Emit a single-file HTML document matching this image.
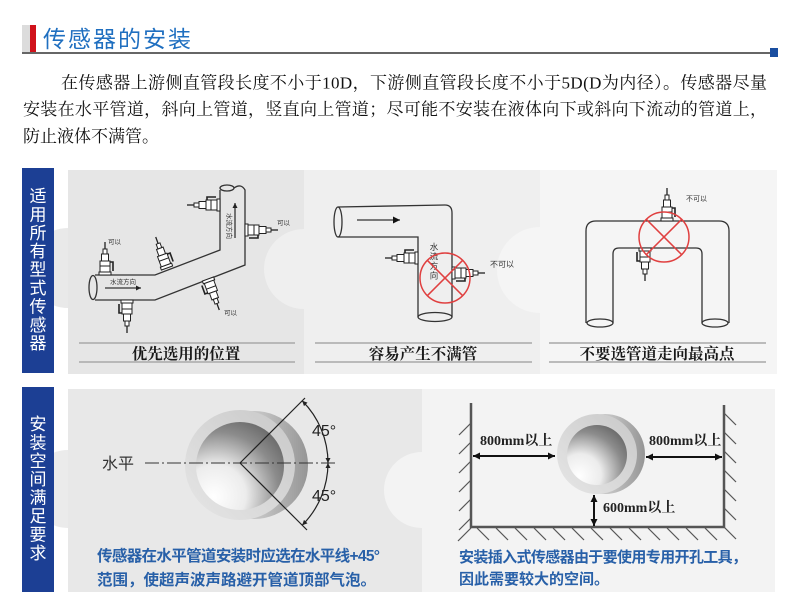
<!DOCTYPE html>
<html><head><meta charset="utf-8"><style>
html,body{margin:0;padding:0;background:#fff;}
svg{display:block;}
.sf{font-family:"Liberation Serif","Noto Serif CJK SC",serif;}
.ss{font-family:"Liberation Sans","Noto Sans CJK SC",sans-serif;}
</style></head><body>
<svg width="790" height="595" viewBox="0 0 790 595" xmlns="http://www.w3.org/2000/svg">
<defs>
 <g id="sn" fill="#fff" stroke="#222" stroke-width="1">
  <rect x="-6" y="-3" width="12" height="3"/>
  <rect x="-5" y="-14" width="10" height="11"/>
  <line x1="-5" y1="-9" x2="5" y2="-9"/>
  <path d="M5,-13 H8 V-4" fill="none" stroke-width="1.6"/>
  <rect x="-3.5" y="-21" width="7" height="7"/>
  <rect x="-2" y="-26" width="4" height="5"/>
  <line x1="0" y1="-26" x2="0" y2="-33" stroke-width="1.3"/>
 </g>
 <marker id="ah" viewBox="0 0 10 10" refX="10" refY="5" markerWidth="9" markerHeight="7" markerUnits="userSpaceOnUse" orient="auto-start-reverse">
  <path d="M0,0 L10,5 L0,10 z" fill="#111"/>
 </marker>
 <marker id="as" viewBox="0 0 10 10" refX="10" refY="5" markerWidth="6" markerHeight="5" markerUnits="userSpaceOnUse" orient="auto-start-reverse">
  <path d="M0,0 L10,5 L0,10 z" fill="#222"/>
 </marker>
 <linearGradient id="cyl" x1="0" y1="0" x2="1" y2="0">
  <stop offset="0" stop-color="#e8e8e8"/><stop offset="0.6" stop-color="#c0c0c0"/><stop offset="1" stop-color="#959595"/>
 </linearGradient>
 <linearGradient id="ring" x1="0" y1="1" x2="1" y2="0">
  <stop offset="0" stop-color="#e6e6e6"/><stop offset="1" stop-color="#c8c8c8"/>
 </linearGradient>
 <radialGradient id="bore" cx="0.25" cy="0.8" r="1.0" fx="0.2" fy="0.85">
  <stop offset="0" stop-color="#ffffff"/><stop offset="0.35" stop-color="#ececec"/><stop offset="0.7" stop-color="#8c8c8c"/><stop offset="1" stop-color="#5c5c5c"/>
 </radialGradient>
</defs>

<!-- header -->
<rect x="22" y="25" width="8" height="28" fill="#dcdcdc"/>
<rect x="30" y="25" width="6" height="28" fill="#d0121b"/>
<text x="43" y="47" class="ss" font-size="23" letter-spacing="2" fill="#1f6fc0">传感器的安装</text>
<line x1="22" y1="53" x2="772" y2="53" stroke="#666" stroke-width="2"/>
<rect x="770" y="48" width="8" height="9" fill="#1a4ea0"/>

<!-- paragraph -->
<g class="sf" font-size="17" fill="#111">
 <text x="61" y="88.5" textLength="706" lengthAdjust="spacing">在传感器上游侧直管段长度不小于10D，下游侧直管段长度不小于5D(D为内径）。传感器尽量</text>
 <text x="23" y="115" textLength="744" lengthAdjust="spacing">安装在水平管道，斜向上管道，竖直向上管道；尽可能不安装在液体向下或斜向下流动的管道上，</text>
 <text x="23" y="142">防止液体不满管。</text>
</g>

<!-- row 1 panels -->
<rect x="68" y="170" width="236" height="204" fill="#e6e6e6"/>
<rect x="304" y="170" width="236" height="204" fill="#efefef"/>
<circle cx="304" cy="269" r="40" fill="#efefef"/>
<rect x="540" y="170" width="237" height="204" fill="#f5f5f5"/>
<circle cx="540" cy="270" r="43" fill="#f5f5f5"/>
<path d="M68,228 A40,40 0 0 0 68,308 Z" fill="#e9e9e9"/>

<!-- row 2 panels -->
<rect x="68" y="389" width="354" height="203" fill="#e8e8e8"/>
<path d="M68,450 A39,39 0 0 0 68,528 Z" fill="#ebebeb"/>
<rect x="422" y="389" width="353" height="203" fill="#f3f3f3"/>
<circle cx="422" cy="490" r="38" fill="#f3f3f3"/>

<!-- blue label boxes -->
<rect x="22" y="168" width="32" height="205" fill="#1c3f94"/>
<rect x="22" y="387" width="32" height="205" fill="#1c3f94"/>
<g class="ss" font-size="17" fill="#fff" text-anchor="middle">
 <text x="38" y="202">适</text><text x="38" y="220.4">用</text><text x="38" y="238.8">所</text>
 <text x="38" y="257.2">有</text><text x="38" y="275.6">型</text><text x="38" y="294">式</text>
 <text x="38" y="312.4">传</text><text x="38" y="330.8">感</text><text x="38" y="349.2">器</text>
 <text x="38" y="430">安</text><text x="38" y="448.4">装</text><text x="38" y="466.8">空</text>
 <text x="38" y="485.2">间</text><text x="38" y="503.6">满</text><text x="38" y="522">足</text>
 <text x="38" y="540.4">要</text><text x="38" y="558.8">求</text>
</g>

<!-- row1 caption lines -->
<g stroke="#a8a8a8" stroke-width="1.5">
 <line x1="79" y1="343" x2="295" y2="343"/><line x1="79" y1="362" x2="295" y2="362"/>
 <line x1="315" y1="343" x2="532" y2="343"/><line x1="315" y1="362" x2="532" y2="362"/>
 <line x1="549" y1="343" x2="766" y2="343"/><line x1="549" y1="362" x2="766" y2="362"/>
</g>
<g class="sf" font-size="15.5" font-weight="bold" fill="#1a1a1a" text-anchor="middle">
 <text x="186" y="359">优先选用的位置</text>
 <text x="423" y="359">容易产生不满管</text>
 <text x="657" y="359">不要选管道走向最高点</text>
</g>

<!-- panel 1 drawing -->
<g fill="none" stroke="#333" stroke-width="1.3">
 <path d="M95,275 L155,275 L220,250 L220,190"/>
 <path d="M234,188 Q241,183 245,190 L245,265 L155,300 L95,300"/>
 <ellipse cx="93" cy="287.5" rx="4" ry="12"/>
 <ellipse cx="227" cy="188" rx="7" ry="3"/>
 <line x1="105" y1="288" x2="141" y2="288" marker-end="url(#as)"/>
 <line x1="235" y1="238" x2="235" y2="203" marker-end="url(#as)"/>
</g>
<g class="ss" font-size="6.5" fill="#333">
 <text x="110" y="284">水流方向</text>
 <text x="0" y="0" transform="translate(227,213) rotate(90)">水流方向</text>
 <text x="108" y="244">可以</text>
 <text x="277" y="225">可以</text>
 <text x="224" y="315">可以</text>
</g>
<use href="#sn" transform="translate(105,275)"/>
<use href="#sn" transform="translate(167,268) rotate(-20)"/>
<use href="#sn" transform="translate(127,300) rotate(180)"/>
<use href="#sn" transform="translate(208,279) rotate(160)"/>
<use href="#sn" transform="translate(220,205) rotate(-90)"/>
<use href="#sn" transform="translate(245,230) rotate(90)"/>

<!-- panel 2 drawing -->
<g fill="none" stroke="#333" stroke-width="1.3">
 <path d="M338,207 L445,205 Q452,205 452,213 L452,317"/>
 <path d="M338,237 L418,237 L418,317"/>
 <ellipse cx="338" cy="222" rx="4" ry="15"/>
 <ellipse cx="435" cy="317" rx="17" ry="4.5"/>
 <line x1="357" y1="220" x2="400" y2="220" marker-end="url(#ah)"/>
</g>
<g class="ss" font-size="8.5" fill="#333" text-anchor="middle">
 <text x="434" y="250">水</text><text x="434" y="259.5">流</text><text x="434" y="269">方</text><text x="434" y="278.5">向</text>
</g>
<use href="#sn" transform="translate(418,258) rotate(-90)"/>
<use href="#sn" transform="translate(452,273) rotate(90)"/>
<g fill="none" stroke="#e04040" stroke-width="1.5">
 <circle cx="445" cy="278" r="25"/>
 <line x1="427.3" y1="260.3" x2="462.7" y2="295.7"/>
 <line x1="462.7" y1="260.3" x2="427.3" y2="295.7"/>
</g>
<text x="490" y="267" class="ss" font-size="8" fill="#333">不可以</text>

<!-- panel 3 drawing -->
<g fill="none" stroke="#333" stroke-width="1.3">
 <path d="M586,323 L586,231 Q586,221 596,221 L719,221 Q729,221 729,231 L729,323"/>
 <path d="M613,323 L613,254 Q613,248 619,248 L696,248 Q702,248 702,254 L702,323"/>
 <ellipse cx="600" cy="323" rx="13" ry="4"/>
 <ellipse cx="715" cy="323" rx="13" ry="4"/>
</g>
<use href="#sn" transform="translate(667,221)"/>
<use href="#sn" transform="translate(645,248) rotate(180)"/>
<g fill="none" stroke="#e04040" stroke-width="1.5">
 <circle cx="664" cy="237" r="25"/>
 <line x1="646.3" y1="219.3" x2="681.7" y2="254.7"/>
 <line x1="681.7" y1="219.3" x2="646.3" y2="254.7"/>
</g>
<text x="686" y="201" class="ss" font-size="7" fill="#333">不可以</text>

<!-- row 2 left drawing -->
<circle cx="254" cy="465" r="54" fill="url(#cyl)"/>
<circle cx="240" cy="465" r="55" fill="url(#ring)"/>
<circle cx="240" cy="466" r="44" fill="url(#bore)"/>
<line x1="145" y1="463" x2="335" y2="463" stroke="#333" stroke-width="1" stroke-dasharray="14,3,2,3"/>
<text x="102" y="469" class="ss" font-size="16" fill="#333">水平</text>
<g stroke="#222" stroke-width="1.2" fill="none">
 <line x1="240" y1="463" x2="305" y2="398"/>
 <line x1="240" y1="463" x2="307" y2="530"/>
 <path d="M302.2,400.8 A88,88 0 0 1 328,463" marker-start="url(#as)" marker-end="url(#as)"/>
 <path d="M328,463 A88,88 0 0 1 302.2,525.2" marker-start="url(#as)" marker-end="url(#as)"/>
</g>
<g class="ss" font-size="16" fill="#222">
 <text x="312" y="436">45°</text>
 <text x="312" y="501">45°</text>
</g>
<g class="ss" font-size="15.5" font-weight="600" fill="#2860a8">
 <text x="97" y="561" textLength="283" lengthAdjust="spacing">传感器在水平管道安装时应选在水平线+45°</text>
 <text x="97" y="585">范围，使超声波声路避开管道顶部气泡。</text>
</g>

<!-- row 2 right drawing -->
<g stroke="#555" stroke-width="1.2">
 <line x1="459" y1="435" x2="471" y2="423"/><line x1="459" y1="454" x2="471" y2="442"/>
 <line x1="459" y1="473" x2="471" y2="461"/><line x1="459" y1="492" x2="471" y2="480"/>
 <line x1="459" y1="511" x2="471" y2="499"/><line x1="459" y1="530" x2="471" y2="518"/>
 <line x1="458" y1="541" x2="471" y2="528"/>
 <line x1="724" y1="413" x2="736" y2="425"/><line x1="724" y1="432" x2="736" y2="444"/>
 <line x1="724" y1="451" x2="736" y2="463"/><line x1="724" y1="470" x2="736" y2="482"/>
 <line x1="724" y1="489" x2="736" y2="501"/><line x1="724" y1="508" x2="736" y2="520"/>
 <line x1="724" y1="527" x2="736" y2="539"/>
 <line x1="477" y1="528" x2="489" y2="540"/><line x1="496" y1="528" x2="508" y2="540"/>
 <line x1="515" y1="528" x2="527" y2="540"/><line x1="534" y1="528" x2="546" y2="540"/>
 <line x1="553" y1="528" x2="565" y2="540"/><line x1="572" y1="528" x2="584" y2="540"/>
 <line x1="591" y1="528" x2="603" y2="540"/><line x1="610" y1="528" x2="622" y2="540"/>
 <line x1="629" y1="528" x2="641" y2="540"/><line x1="648" y1="528" x2="660" y2="540"/>
 <line x1="667" y1="528" x2="679" y2="540"/><line x1="686" y1="528" x2="698" y2="540"/>
 <line x1="705" y1="528" x2="717" y2="540"/>
</g>
<path d="M471,403 L471,527 L724,527 L724,405" fill="none" stroke="#555" stroke-width="2.5"/>
<circle cx="605" cy="454" r="40" fill="url(#cyl)"/>
<circle cx="597" cy="454" r="40" fill="url(#ring)"/>
<circle cx="597" cy="455" r="30" fill="url(#bore)"/>
<g stroke="#111" stroke-width="2" fill="none">
 <line x1="473" y1="456" x2="555" y2="456" marker-start="url(#ah)" marker-end="url(#ah)"/>
 <line x1="646" y1="457" x2="722" y2="457" marker-start="url(#ah)" marker-end="url(#ah)"/>
 <line x1="594" y1="495" x2="594" y2="526" marker-start="url(#ah)" marker-end="url(#ah)"/>
</g>
<g class="sf" font-size="14" font-weight="bold" fill="#222">
 <text x="480" y="445">800mm以上</text>
 <text x="649" y="445">800mm以上</text>
 <text x="603" y="512">600mm以上</text>
</g>
<g class="ss" font-size="15" font-weight="600" fill="#2860a8">
 <text x="459" y="562" textLength="288" lengthAdjust="spacing">安装插入式传感器由于要使用专用开孔工具，</text>
 <text x="459" y="584">因此需要较大的空间。</text>
</g>
</svg>
</body></html>
